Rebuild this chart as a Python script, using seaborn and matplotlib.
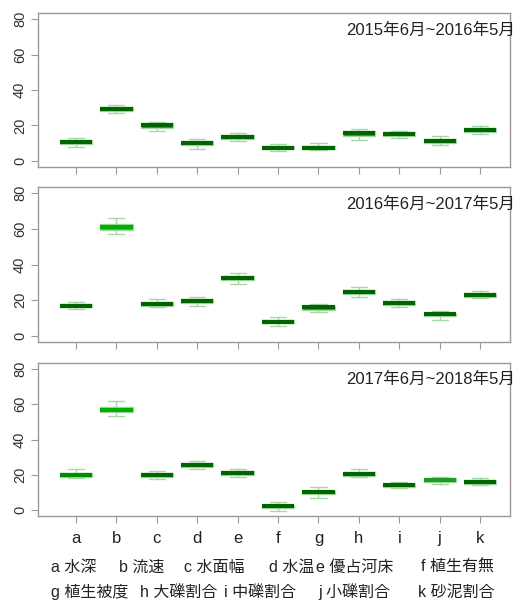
import numpy as np
import pandas as pd
import matplotlib
matplotlib.use("Agg")
import matplotlib.pyplot as plt
import seaborn as sns

# categories on the x axis
letters = ["a", "b", "c", "d", "e", "f", "g", "h", "i", "j", "k"]

periods = ["2015年6月~2016年5月", "2016年6月~2017年5月", "2017年6月~2018年5月"]

# five-number summaries (low whisker, q1, median, q3, high whisker)
low_1 = [8.0, 27.0, 17.0, 7.0, 11.0, 5.5, 6.0, 12.0, 13.0, 9.0, 15.0]
q1_1 = [9.3, 28.3, 18.8, 8.8, 12.3, 6.5, 6.5, 14.3, 13.8, 10.0, 16.3]
med_1 = [10.5, 29.5, 20.0, 10.0, 13.5, 7.5, 7.5, 15.5, 15.0, 11.0, 17.5]
q3_1 = [11.7, 30.7, 21.2, 11.2, 14.7, 8.5, 8.7, 16.7, 16.2, 12.2, 18.7]
high_1 = [13.0, 31.5, 22.0, 12.5, 16.0, 9.5, 10.0, 18.0, 17.0, 14.0, 19.5]

low_2 = [15.0, 57.0, 16.0, 17.0, 29.0, 5.5, 13.5, 22.0, 16.0, 9.0, 21.0]
q1_2 = [16.0, 59.5, 17.0, 18.3, 31.3, 7.0, 14.8, 23.3, 17.3, 11.0, 22.0]
med_2 = [17.0, 61.0, 18.0, 19.5, 32.5, 8.0, 16.0, 24.5, 18.5, 12.0, 23.0]
q3_2 = [18.0, 62.5, 19.0, 20.7, 33.7, 9.0, 17.0, 25.7, 19.5, 13.0, 24.0]
high_2 = [19.0, 66.0, 20.5, 22.0, 35.5, 10.5, 18.0, 27.5, 20.5, 14.0, 25.0]

low_3 = [18.0, 53.5, 17.5, 23.0, 19.0, -0.5, 7.0, 18.5, 12.5, 14.5, 14.0]
q1_3 = [19.0, 55.8, 18.8, 24.3, 20.0, 1.0, 9.0, 19.5, 13.0, 16.0, 15.0]
med_3 = [20.0, 57.0, 20.0, 25.5, 21.0, 2.0, 10.0, 20.5, 14.0, 17.0, 16.0]
q3_3 = [21.2, 58.2, 21.0, 26.7, 22.0, 3.0, 11.0, 21.5, 15.0, 18.0, 17.0]
high_3 = [23.5, 62.0, 22.0, 28.0, 23.5, 4.5, 13.0, 23.0, 16.0, 19.0, 18.0]

legend_row1 = ["a 水深", "b 流速", "c 水面幅", "d 水温", "e 優占河床", "f 植生有無"]
legend_row2 = ["g 植生被度", "h 大礫割合", "i 中礫割合", "j 小礫割合", "k 砂泥割合"]

# box fill and median colours
GREEN = "#1a9a1a"
DARK = "#006400"
fills = [
    [GREEN] * 11,
    [GREEN, "#00e000"] + [GREEN] * 9,
    ["#00c400", "#00e000"] + [GREEN] * 9,
]
medians = [
    [DARK] * 11,
    [DARK, "#00b000"] + [DARK] * 9,
    ["#008c00", "#00b000"] + [DARK] * 7 + ["#1e9e1e", DARK],
]
LIGHT = "#a6d8a6"

summaries = [
    (low_1, q1_1, med_1, q3_1, high_1),
    (low_2, q1_2, med_2, q3_2, high_2),
    (low_3, q1_3, med_3, q3_3, high_3),
]

sns.set_style("white")
plt.rcParams["font.family"] = ["Liberation Sans", "Noto Sans CJK JP"]

W, H = 532, 602
fig = plt.figure(figsize=(W / 100, H / 100), dpi=100)

# panel frames in pixels (top, bottom)
frames = [(13, 167), (187, 342), (363, 516)]
left_px, right_px = 38, 510

for p, (top, bot) in enumerate(frames):
    ax = fig.add_axes([left_px / W, 1 - bot / H, (right_px - left_px) / W, (bot - top) / H])
    lo, q1, md, q3, hi = summaries[p]
    rows = []
    for k, lab in enumerate(letters):
        for v in (lo[k], q1[k], md[k], q3[k], hi[k]):
            rows.append({"var": lab, "value": v})
    df = pd.DataFrame(rows)

    sns.boxplot(data=df, x="var", y="value", hue="var", order=letters,
                hue_order=letters, palette=dict(zip(letters, fills[p])),
                legend=False, width=0.8, whis=(0, 100), ax=ax,
                linecolor=LIGHT, linewidth=1.0,
                medianprops=dict(color=DARK, linewidth=3.0),
                whiskerprops=dict(color=LIGHT, linewidth=1.0),
                capprops=dict(color=LIGHT, linewidth=1.0),
                boxprops=dict(edgecolor=LIGHT, linewidth=1.0))

    for k, cont in enumerate(ax.containers):
        for m in cont.medians:
            m.set_color(medians[p][k])

    ax.set_xlim(-0.94, 10.74)
    ax.set_ylim(-3.4, 83.4)
    ax.set_yticks([0, 20, 40, 60, 80])
    ax.set_yticklabels(["0", "20", "40", "60", "80"], rotation=90, va="center",
                       fontsize=10.5, color="#333333")
    ax.set_xlabel("")
    ax.set_ylabel("")
    for s in ax.spines.values():
        s.set_color("#9a9a9a")
        s.set_linewidth(1.0)
    ax.tick_params(axis="both", direction="out", length=5, width=0.8,
                   color="#9a9a9a", left=True, bottom=True)
    ax.tick_params(axis="y", pad=3)
    if p < 2:
        ax.set_xticklabels([])
    else:
        ax.tick_params(axis="x", labelsize=12, pad=6, labelcolor="#222222")

    ax.text(1.01, 0.89, periods[p], transform=ax.transAxes, ha="right",
            va="center", fontsize=12, color="#222222")

# legend of the variable letters
row1_x = [51, 119, 184, 269, 316, 421]
row2_x = [51, 140, 224, 318, 418]
for txt, x in zip(legend_row1, row1_x):
    fig.text(x / W, 1 - 567 / H, txt, ha="left", va="center", fontsize=11.5, color="#222222")
for txt, x in zip(legend_row2, row2_x):
    fig.text(x / W, 1 - 592 / H, txt, ha="left", va="center", fontsize=11.5, color="#222222")

fig.savefig("out.png", dpi=100)
